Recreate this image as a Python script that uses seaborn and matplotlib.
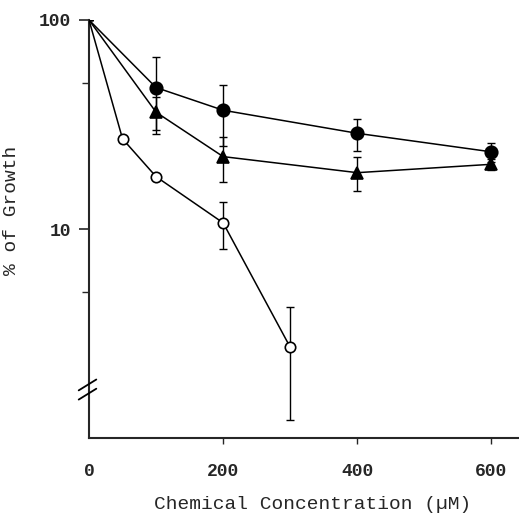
import numpy as np
import pandas as pd
import matplotlib
matplotlib.use('Agg')
import matplotlib.pyplot as plt
import seaborn as sns
from matplotlib.ticker import FixedLocator, NullFormatter

# filled circles
conc_filled = [0, 100, 200, 400, 600]
growth_filled = [100, 47.5, 37.0, 28.7, 23.4]
err_filled = [0, 19.0, 12.0, 5.0, 2.4]

# filled triangles
conc_tri = [0, 100, 200, 400, 600]
growth_tri = [100, 36.2, 22.2, 18.6, 20.4]
err_tri = [0, 6.5, 5.4, 3.4, 1.2]

# open circles
conc_open = [0, 50, 100, 200, 300]
growth_open = [100, 27.0, 17.8, 10.7, 2.72]
err_open = [0, 0, 0, 2.7, 1.5]

x_ticks = [0, 200, 400, 600]
y_major = [10, 100]
y_minor = [5, 50]

sns.set_style("ticks")
plt.rcParams['font.family'] = ['Liberation Mono', 'DejaVu Sans Mono']

fig = plt.figure(figsize=(5.19, 5.19), dpi=100)
ax = fig.add_axes([0.1715, 0.156, 0.827, 0.8055])

series = [
    (conc_filled, growth_filled, err_filled, dict(marker='o', markersize=9, markerfacecolor='black')),
    (conc_tri, growth_tri, err_tri, dict(marker='^', markersize=8, markerfacecolor='black')),
    (conc_open, growth_open, err_open, dict(marker='o', markersize=7.5, markerfacecolor='white')),
]

for xs, ys, es, style in series:
    df = pd.DataFrame({'conc': xs, 'growth': ys})
    ax.errorbar(xs, ys, yerr=es, fmt='none', ecolor='black', elinewidth=1.0,
                capsize=3, capthick=1.0, zorder=2)
    # no marker at the 0 point, lines just meet there
    sns.lineplot(data=df, x='conc', y='growth', ax=ax, color='black', linewidth=1.1,
                 markeredgecolor='black', markeredgewidth=1.2, zorder=3,
                 markevery=list(range(1, len(xs))), **style)

ax.set_yscale('log')
ax.set_ylim(1, 100)
ax.set_xlim(0, 640)

ax.set_yticks(y_major)
ax.set_yticklabels(['10', '100'])
ax.yaxis.set_minor_locator(FixedLocator(y_minor))
ax.yaxis.set_minor_formatter(NullFormatter())
ax.set_xticks(x_ticks)
ax.set_xticklabels([str(v) for v in x_ticks])
ax.xaxis.get_major_ticks()[0].tick1line.set_visible(False)

ax.tick_params(axis='y', which='major', length=7, width=1.2, labelsize=13, pad=6)
ax.tick_params(axis='y', which='minor', length=5, width=1.0)
ax.tick_params(axis='x', length=4, width=1.0, labelsize=13, pad=14)
for lab in ax.get_xticklabels() + ax.get_yticklabels():
    lab.set_fontweight('bold')

for s in ['top', 'right']:
    ax.spines[s].set_visible(False)
ax.spines['left'].set_linewidth(1.5)
ax.spines['bottom'].set_linewidth(1.5)

# axis break marks on the y axis
for yc in (0.127, 0.105):
    ax.plot([-0.024, 0.017], [yc - 0.013, yc + 0.013], transform=ax.transAxes,
            color='black', linewidth=1.3, clip_on=False, zorder=5)

ax.set_xlabel('Chemical Concentration (\u00b5M)', fontsize=14)
ax.xaxis.set_label_coords(0.522, -0.138)
ax.set_ylabel('% of Growth', fontsize=14)
ax.yaxis.set_label_coords(-0.161, 0.545)

fig.savefig('out.png', dpi=100, facecolor='white')
